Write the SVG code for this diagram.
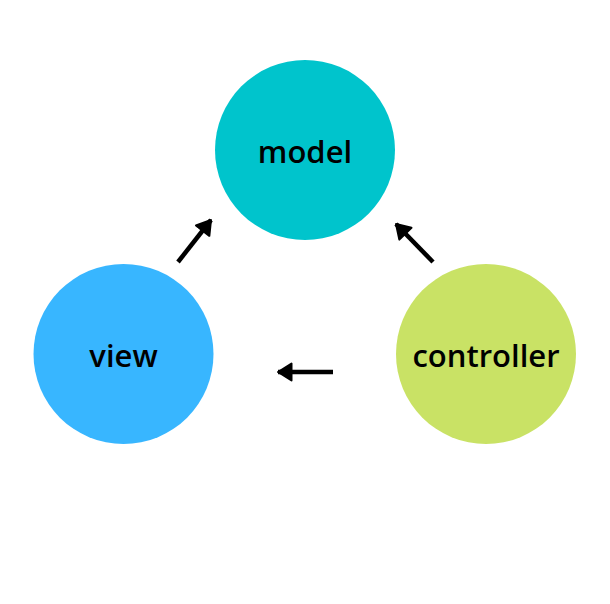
<svg xmlns="http://www.w3.org/2000/svg" width="610" height="604" viewBox="0 0 610 604">
<style>
.lbl{font-family:"Open Sans","Liberation Sans",sans-serif;font-weight:600;font-size:31px;fill:#000;text-anchor:middle}
.conn{stroke:#000;stroke-width:4.5;fill:none;marker-end:url(#ah)}
</style>
<defs>
<marker id="ah" markerUnits="userSpaceOnUse" viewBox="0 0 16 20" refX="15" refY="10" markerWidth="16" markerHeight="20" orient="auto">
<path d="M1.5,1.5 L15,10 L1.5,18.5 z" fill="#000" stroke="#000" stroke-width="2" stroke-linejoin="round"/>
</marker>
</defs>
<rect width="610" height="604" fill="#fff"/>
<g id="model"><circle cx="305" cy="150" r="90" fill="#00C4CC"/><text class="lbl" x="305" y="163">model</text></g>
<g id="view"><circle cx="123.5" cy="354" r="90" fill="#38B6FF"/><text class="lbl" x="123.5" y="367">view</text></g>
<g id="controller"><circle cx="486" cy="354" r="90" fill="#C9E265"/><text class="lbl" x="486" y="367">controller</text></g>
<g id="connectors">
<line class="conn" x1="178" y1="262" x2="211" y2="220"/>
<line class="conn" x1="433" y1="262" x2="396" y2="224"/>
<line class="conn" x1="333" y1="372" x2="278" y2="372"/>
</g>
</svg>
